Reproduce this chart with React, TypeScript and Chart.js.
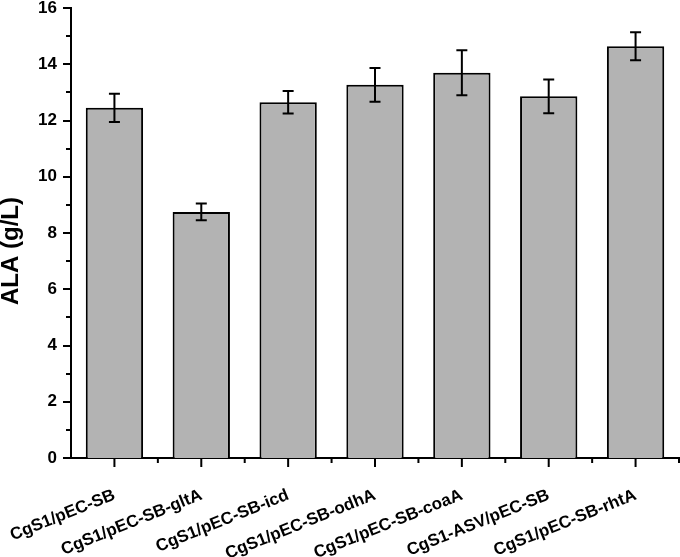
import React, { useEffect, useRef } from "react";
import { Chart, registerables } from "chart.js";

Chart.register(...registerables);

const categories = [
  "CgS1/pEC-SB",
  "CgS1/pEC-SB-gltA",
  "CgS1/pEC-SB-icd",
  "CgS1/pEC-SB-odhA",
  "CgS1/pEC-SB-coaA",
  "CgS1-ASV/pEC-SB",
  "CgS1/pEC-SB-rhtA",
];
const alaValues = [12.45, 8.75, 12.65, 13.27, 13.7, 12.86, 14.64];
const alaErrors = [0.5, 0.3, 0.4, 0.6, 0.8, 0.6, 0.5];
const yTickMin = 0;
const yTickMax = 16;
const yTitle = "ALA (g/L)";

const FONT = "'Liberation Sans', Arial, sans-serif";

const errorBarPlugin = {
  id: "errorBars",
  afterDatasetsDraw(chart: any) {
    const meta = chart.getDatasetMeta(0);
    const y = chart.scales.y;
    const ctx = chart.ctx;
    ctx.save();
    ctx.strokeStyle = "#000";
    ctx.lineWidth = 2;
    meta.data.forEach((bar: any, i: number) => {
      const v = alaValues[i];
      const e = alaErrors[i];
      const top = y.getPixelForValue(v + e);
      const bot = y.getPixelForValue(v - e);
      const x = bar.x;
      const cap = 5.5;
      ctx.beginPath();
      ctx.moveTo(x, top);
      ctx.lineTo(x, bot);
      ctx.moveTo(x - cap, top);
      ctx.lineTo(x + cap, top);
      ctx.moveTo(x - cap, bot);
      ctx.lineTo(x + cap, bot);
      ctx.stroke();
    });
    ctx.restore();
  },
};

const tickPlugin = {
  id: "customTicks",
  afterDraw(chart: any) {
    const { x, y } = chart.scales;
    const area = chart.chartArea;
    const ctx = chart.ctx;
    ctx.save();
    ctx.strokeStyle = "#000";
    ctx.lineWidth = 2;
    ctx.beginPath();
    for (let v = yTickMin; v <= yTickMax; v++) {
      const py = Math.round(y.getPixelForValue(v));
      const len = v % 2 === 0 ? 8 : 5;
      ctx.moveTo(area.left, py);
      ctx.lineTo(area.left - len, py);
    }
    for (let i = 0; i < categories.length; i++) {
      const px = x.getPixelForValue(i);
      ctx.moveTo(px, area.bottom);
      ctx.lineTo(px, area.bottom + 9);
      const pm = x.getPixelForValue(i + 0.5);
      ctx.moveTo(pm, area.bottom);
      ctx.lineTo(pm, area.bottom + 5);
    }
    ctx.stroke();
    // y-axis title
    ctx.fillStyle = "#000";
    ctx.font = `bold 24px ${FONT}`;
    ctx.textAlign = "center";
    ctx.textBaseline = "middle";
    ctx.translate(11, (area.top + area.bottom) / 2 + 18);
    ctx.rotate(-Math.PI / 2);
    ctx.fillText(yTitle, 0, 0);
    ctx.restore();
  },
};

export default function App() {
  const ref = useRef<HTMLCanvasElement | null>(null);
  useEffect(() => {
    if (!ref.current) return;
    const chart = new Chart(ref.current, {
      type: "bar",
      data: {
        labels: categories,
        datasets: [
          {
            data: alaValues,
            backgroundColor: "#b3b3b3",
            borderColor: "#000",
            borderWidth: 2,
            barPercentage: 0.66,
            categoryPercentage: 1,
          },
        ],
      },
      options: {
        animation: false,
        responsive: true,
        maintainAspectRatio: false,
        layout: { padding: { top: 8, right: 1, left: 0, bottom: 0 } },
        plugins: {
          legend: { display: false },
          tooltip: { enabled: false },
        },
        scales: {
          x: {
            grid: { display: false, drawTicks: true, tickLength: 9 },
            border: { display: true, color: "#000", width: 2 },
            ticks: {
              color: "#000",
              font: { family: FONT, size: 17, weight: "bold" },
              minRotation: 22,
              maxRotation: 22,
              autoSkip: false,
              padding: 18,
            },
            afterFit(scale: any) {
              scale.height = 99;
              scale.paddingLeft = 0;
              scale.paddingRight = 0;
            },
          },
          y: {
            min: yTickMin,
            max: yTickMax,
            grid: { display: false, drawTicks: true, tickLength: 8 },
            border: { display: true, color: "#000", width: 2 },
            ticks: {
              stepSize: 1,
              autoSkip: false,
              color: "#000",
              padding: 6,
              font: { family: FONT, size: 17, weight: "bold" },
              callback: (v: any) => (Number(v) % 2 === 0 ? String(v) : ""),
            },
            afterFit(scale: any) {
              scale.width = 71;
              scale.paddingTop = 0;
              scale.paddingBottom = 0;
            },
          },
        },
      },
      plugins: [errorBarPlugin, tickPlugin],
    });
    return () => chart.destroy();
  }, []);
  return (
    <div style={{ position: "fixed", left: 0, top: 0, width: 680, height: 557, background: "#fff" }}>
      <canvas ref={ref} />
    </div>
  );
}
